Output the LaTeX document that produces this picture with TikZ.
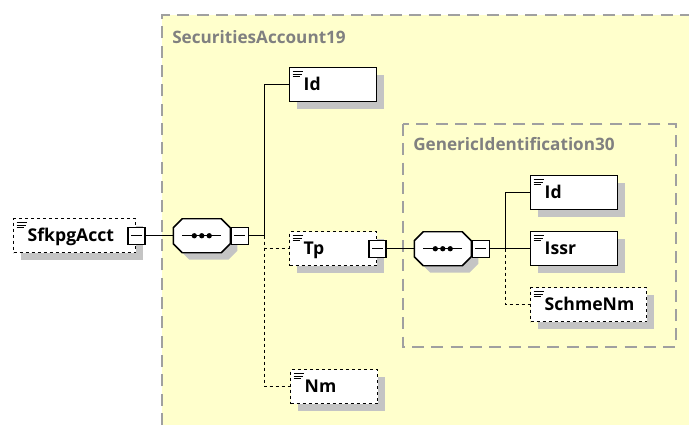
\documentclass[tikz,border=0pt]{standalone}
\usepackage{fontspec}
\setmainfont{Open Sans}
\usetikzlibrary{shadows}

\definecolor{groupfill}{RGB}{255,255,204}
\definecolor{groupline}{RGB}{160,160,160}
\definecolor{grouptext}{RGB}{128,128,128}
\definecolor{shadowgray}{RGB}{196,196,196}

\tikzset{
  elem/.style={draw, fill=white, line width=1.1pt, anchor=north west,
    minimum height=25.5pt, text width=#1, inner xsep=10.5pt, align=left,
    text height=9.3pt, text depth=0pt,
    font=\fontsize{13.2}{15}\selectfont\bfseries,
    drop shadow={shadow xshift=5.5pt, shadow yshift=-5.5pt,
      fill=shadowgray, opacity=1},
    path picture={
      \foreach \dy/\w in {4/10,6.5/9,9/7}
        \draw[solid, line width=0.6pt]
          ([shift={(3,\dy)}]path picture bounding box.north west) -- ++(\w,0);
    }},
  optional/.style={dash pattern=on 2.25pt off 2.25pt},
  seqbox/.style={minimum width=42.75pt, minimum height=25.5pt,
    inner sep=0pt, anchor=west},
  seqframe/.style={draw, fill=white, line width=1.1pt},
  octagon/.style 2 args={insert path={
    ([shift={(-28.5+#2,-8+#2)}]#1.center) -- ([shift={(-19.5+#2,-17+#2)}]#1.center)
    -- ([shift={(19.5+#2,-17+#2)}]#1.center) -- ([shift={(28.5+#2,-8+#2)}]#1.center)
    -- ([shift={(28.5+#2,8+#2)}]#1.center) -- ([shift={(19.5+#2,17+#2)}]#1.center)
    -- ([shift={(-19.5+#2,17+#2)}]#1.center) -- ([shift={(-28.5+#2,8+#2)}]#1.center)
    -- cycle}},
  minus/.style={draw, fill=white, line width=0.9pt, minimum size=12.75pt,
    inner sep=0pt,
    path picture={
      \draw[solid, line width=0.9pt]
        ([xshift=-4pt]path picture bounding box.center)
        -- ([xshift=4pt]path picture bounding box.center);
    }},
  groupborder/.style={draw=groupline, line width=1.1pt,
    dash pattern=on 9pt off 5.5pt},
  grouptitle/.style={anchor=base west, inner sep=0pt, text=grouptext,
    font=\fontsize{12.85}{15}\selectfont\bfseries},
  conn/.style={line width=0.9pt},
  optconn/.style={conn, dash pattern=on 2.25pt off 2.25pt}
}

% octagon with shadow, bar and three dots over a seqbox node
\newcommand\drawseq[1]{%
  \fill[shadowgray, octagon={#1}{7}];
  \draw[seqframe, octagon={#1}{0}];
  \draw[line width=1pt] ([xshift=-14.5pt]#1.center) -- ([xshift=14.5pt]#1.center);
  \foreach \dx in {-5.6pt,0pt,5.6pt}
    \fill ([xshift=\dx]#1.center) circle (2pt);
}

\begin{document}
\begin{tikzpicture}[x=0.75pt, y=-0.75pt]
  \useasboundingbox (0,0) rectangle (689,425);

  %% Groups
  \fill[groupfill] (162,15) rectangle (689,425);
  \draw[groupborder] (162,425) -- (162,15) -- (689,15);
  \draw[groupborder] (403,124) rectangle (676,347);
  \node[grouptitle] (secacct) at (172,43) {SecuritiesAccount19};
  \node[grouptitle] (genid) at (413,150) {GenericIdentification30};

  %% Root element
  \node[elem=70.5pt, optional] (sfkpg) at (13,218) {SfkpgAcct};
  \node[minus] (m0) at (sfkpg.east) {};

  %% SecuritiesAccount19 sequence
  \node[seqbox] (seq1) at (173,0 |- m0.east) {};
  \drawseq{seq1}
  \node[minus, anchor=west] (m1) at (seq1.east) {};
  \draw[conn] (m0.east) -- (seq1.west);
  \path (m1.east) ++(16,0) coordinate (j1);

  \node[elem=44.25pt] (id1) at (289,67) {Id};
  \node[elem=44.25pt, optional] (tp) at (289,231) {Tp};
  \node[elem=44.25pt, optional] (nm) at (290,369) {Nm};
  \draw[conn] (m1.east) -- (j1) |- (id1.west);
  \draw[optconn] (j1) |- (tp.west);
  \draw[optconn] (j1) |- (nm.west);

  %% GenericIdentification30 sequence
  \node[minus] (m2) at (tp.east) {};
  \node[seqbox] (seq2) at (414,0 |- m2.east) {};
  \drawseq{seq2}
  \node[minus, anchor=west] (m3) at (seq2.east) {};
  \draw[conn] (m2.east) -- (seq2.west);
  \path (m3.east) ++(16,0) coordinate (j2);

  \node[elem=44.25pt] (id2) at (530,175) {Id};
  \node[elem=44.25pt] (issr) at (530,231) {Issr};
  \node[elem=66pt, optional] (schme) at (530,287) {SchmeNm};
  \draw[conn] (m3.east) -- (j2) |- (id2.west);
  \draw[conn] (j2) -- (issr.west);
  \draw[optconn] (j2) |- (schme.west);

\end{tikzpicture}
\end{document}
